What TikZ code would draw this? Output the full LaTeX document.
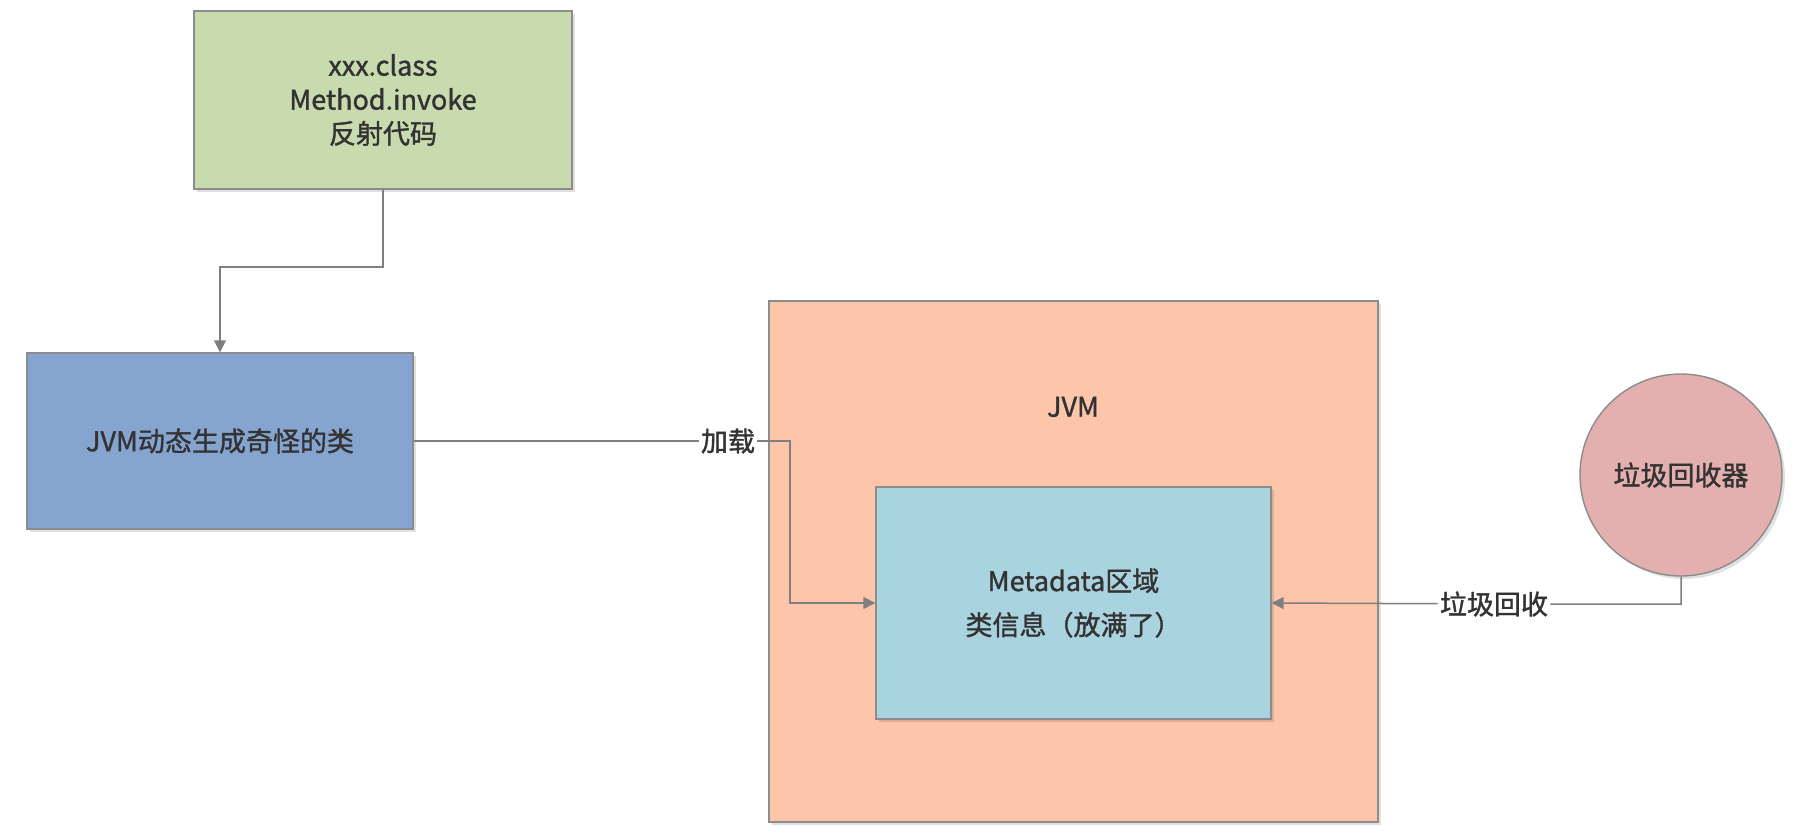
\documentclass[tikz,border=0pt]{standalone}
\usepackage{fontspec}
\setmainfont{Noto Sans CJK SC}[FakeBold=1.3]
\usetikzlibrary{arrows.meta,shadows,positioning}
\definecolor{cgreen}{HTML}{C7DBAF}
\definecolor{cblue}{HTML}{85A4D0}
\definecolor{corange}{HTML}{FDC6AB}
\definecolor{cmeta}{HTML}{AAD3E0}
\definecolor{cred}{HTML}{E3B0AF}
\definecolor{cborder}{HTML}{8C8C8C}
\definecolor{cline}{HTML}{7F7F7F}
\definecolor{ctext}{HTML}{333333}
\tikzset{
  boxstyle/.style={draw=cborder, line width=0.7pt, align=center, text=ctext,
    font=\fontsize{13.5pt}{17pt}\selectfont, inner sep=0pt,
    drop shadow={shadow xshift=1.5pt, shadow yshift=-1.5pt, fill=black, opacity=0.12}},
  conn/.style={draw=cline, line width=0.75pt, -{Triangle[length=6pt,width=6pt]}},
  lbl/.style={fill=white, text=ctext, inner sep=1pt, font=\fontsize{13.5pt}{17pt}\selectfont},
}
\begin{document}
\begin{tikzpicture}[x=0.5pt,y=-0.5pt]
\useasboundingbox[fill=white] (0,0) rectangle (1796,840);
\node[boxstyle, fill=cgreen, minimum width=189pt, minimum height=89pt] (green) at (383,100)
  {xxx.class\\Method.invoke\\反射代码};
\node[boxstyle, fill=cblue, minimum width=193pt, minimum height=88pt] (blue) at (220,441)
  {JVM动态生成奇怪的类};
\node[boxstyle, fill=corange, minimum width=304.5pt, minimum height=260.5pt] (jvm) at (1073.5,561.5) {};
\node[text=ctext, font=\fontsize{13.5pt}{17pt}\selectfont] (jvmlabel) at (1073,407) {JVM};
\node[boxstyle, fill=cmeta, minimum width=197.5pt, minimum height=116pt,
  font=\fontsize{13.5pt}{22pt}\selectfont] (meta) at (1073.5,603)
  {Metadata区域\\类信息（放满了）};
\node[boxstyle, circle, fill=cred, minimum size=101pt] (gc) at (1681,475) {垃圾回收器};

\coordinate (b1) at (383,267);
\draw[conn] (green.south) -- (b1) -| (blue.north);

\node[lbl] (load) at (728,441) {加载};
\coordinate (k1) at (790,441);
\draw[conn] (blue.east) -- (load) -- (k1) |- (meta.west);

\node[lbl] (collect) at (1494,604) {垃圾回收};
\draw[conn] (gc.south) |- (collect) -- (meta.east);
\end{tikzpicture}
\end{document}
